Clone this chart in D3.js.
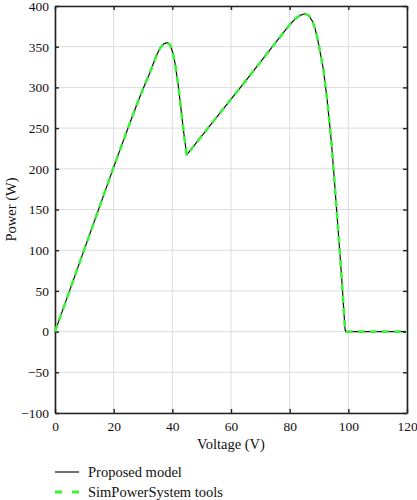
<!DOCTYPE html>
<html>
<head>
<meta charset="utf-8">
<script src="https://cdn.jsdelivr.net/npm/d3@7"></script>
<style>
  body { margin: 0; background: #fff; }
  svg text { font-family: "Liberation Serif", "Times New Roman", serif; }
</style>
</head>
<body>
<div id="chart"></div>
<script>
// data
const voltage = [0, 10, 20, 25, 28, 30, 32, 33.5, 34.7, 35.8, 37, 38.3, 39.3, 40.2, 40.9, 42, 43, 43.8, 44.9,
    55, 65, 75, 80, 82, 83.5, 85.2, 86.5, 87.8, 88.6, 89.5, 90.3, 91.5, 92.8, 94.3, 96, 97.5, 98.9, 99.2, 110, 120];
const proposedPower = [0, 101, 202, 251, 280, 298, 315, 329, 340, 348, 353.5, 355, 352, 342, 330, 303, 272, 247, 217,
    263, 308, 354, 377, 384.5, 388.5, 390.5, 388.5, 381, 373, 360, 345, 322, 284, 230, 150, 78, 2, 0, 0, 0];
const simPower = [0, 101, 202, 251, 280, 298, 315, 329, 340, 348, 353.5, 355, 352, 342, 330, 303, 272, 247, 217,
    263, 308, 354, 377, 384.5, 388.5, 390.5, 388.5, 381, 373, 360, 345, 322, 284, 230, 150, 78, 2, 0, 0, 0];
const xTicks = [0, 20, 40, 60, 80, 100, 120];
const yTicks = [-100, -50, 0, 50, 100, 150, 200, 250, 300, 350, 400];
const seriesNames = ['Proposed model', 'SimPowerSystem tools'];

const margin = { top: 6, right: 10, bottom: 87, left: 55 };
const width = 417 - margin.left - margin.right;
const height = 500 - margin.top - margin.bottom;

const svg = d3.select('#chart')
    .append('svg')
    .attr('width', 417)
    .attr('height', 500);

const group = svg.append('g')
    .attr('transform', 'translate(' + margin.left + ',' + margin.top + ')');

const xScale = d3.scaleLinear().domain([0, 120]).range([0, width]);
const yScale = d3.scaleLinear().domain([-100, 400]).range([height, 0]);

// grid
group.append('g')
    .selectAll('line')
    .data(xTicks)
    .join('line')
    .attr('x1', d => xScale(d)).attr('x2', d => xScale(d))
    .attr('y1', 0).attr('y2', height)
    .attr('stroke', '#dcdcdc').attr('stroke-width', 1);
group.append('g')
    .selectAll('line')
    .data(yTicks)
    .join('line')
    .attr('y1', d => yScale(d)).attr('y2', d => yScale(d))
    .attr('x1', 0).attr('x2', width)
    .attr('stroke', '#dcdcdc').attr('stroke-width', 1);

// axes, ticks pointing inward
const fmt = d => (d < 0 ? '\u2212' + Math.abs(d) : d);
const xAxis = d3.axisBottom(xScale).tickValues(xTicks).tickSizeInner(-4).tickSizeOuter(0).tickPadding(8).tickFormat(fmt);
const yAxis = d3.axisLeft(yScale).tickValues(yTicks).tickSizeInner(-4).tickSizeOuter(0).tickPadding(6).tickFormat(fmt);
const xAxisTop = d3.axisTop(xScale).tickValues(xTicks).tickSizeInner(-4).tickSizeOuter(0).tickFormat('');
const yAxisRight = d3.axisRight(yScale).tickValues(yTicks).tickSizeInner(-4).tickSizeOuter(0).tickFormat('');

const xAxisGroup = group.append('g').attr('transform', 'translate(0,' + height + ')').call(xAxis);
const yAxisGroup = group.append('g').call(yAxis);
const topGroup = group.append('g').call(xAxisTop);
const rightGroup = group.append('g').attr('transform', 'translate(' + width + ',0)').call(yAxisRight);

[xAxisGroup, yAxisGroup, topGroup, rightGroup].forEach(g => {
    g.attr('font-family', null);
    g.select('.domain').attr('stroke', '#222').attr('stroke-width', 1.6);
    g.selectAll('.tick line').attr('stroke', '#222').attr('stroke-width', 1.4);
    g.selectAll('.tick text').attr('fill', '#111').style('font-size', '13.5px');
});

// lines
const line = d3.line()
    .x((d, i) => xScale(voltage[i]))
    .y(d => yScale(d));

group.append('path')
    .datum(proposedPower)
    .attr('fill', 'none')
    .attr('stroke', '#111')
    .attr('stroke-width', 1.2)
    .attr('stroke-linejoin', 'round')
    .attr('d', line);

group.append('path')
    .datum(simPower)
    .attr('fill', 'none')
    .attr('stroke', '#3cf03c')
    .attr('stroke-width', 2.6)
    .attr('stroke-dasharray', '7,5')
    .attr('stroke-linejoin', 'round')
    .attr('d', line);

// axis labels
svg.append('text')
    .text('Voltage (V)')
    .attr('x', margin.left + width / 2)
    .attr('y', 449)
    .attr('text-anchor', 'middle')
    .style('font-size', '14.5px')
    .attr('fill', '#111');

svg.append('text')
    .text('Power (W)')
    .attr('transform', 'translate(16,' + (margin.top + height / 2) + ') rotate(-90)')
    .attr('text-anchor', 'middle')
    .style('font-size', '14.5px')
    .attr('fill', '#111');

// legend
const legend = svg.append('g').attr('transform', 'translate(55,472)');
legend.append('line')
    .attr('x1', 0).attr('x2', 24).attr('y1', 0).attr('y2', 0)
    .attr('stroke', '#111').attr('stroke-width', 1.2);
legend.append('line')
    .attr('x1', 0).attr('x2', 24).attr('y1', 20).attr('y2', 20)
    .attr('stroke', '#3cf03c').attr('stroke-width', 3).attr('stroke-dasharray', '7,10');
legend.selectAll('text')
    .data(seriesNames)
    .join('text')
    .text(d => d)
    .attr('x', 33)
    .attr('y', (d, i) => i * 20 + 5)
    .style('font-size', '14.5px')
    .attr('fill', '#111');
</script>
</body>
</html>
